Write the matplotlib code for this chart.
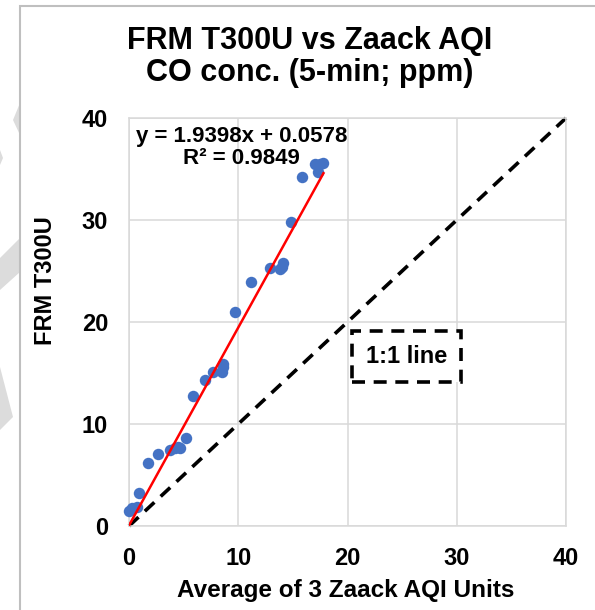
import numpy as np
import matplotlib.pyplot as plt
from matplotlib.patches import Polygon, Rectangle

plt.rcParams["font.family"] = ["Liberation Sans", "DejaVu Sans"]

# Data
zaack_avg = [0.0, 0.3, 0.7, 0.95, 1.75, 2.7, 3.75, 4.2, 4.5, 4.7, 5.2, 5.9, 7.0,
             7.7, 8.5, 8.6, 8.6, 9.7, 11.2, 12.9, 13.8, 14.0, 14.1, 14.8, 15.8,
             17.0, 17.3, 17.5, 17.8]
frm_t300u = [1.5, 1.8, 1.9, 3.2, 6.2, 7.1, 7.45, 7.6, 7.7, 7.6, 8.6, 12.7, 14.3,
             15.1, 15.1, 15.6, 15.9, 21.0, 23.9, 25.3, 25.2, 25.4, 25.8, 29.8, 34.2,
             35.5, 34.7, 35.5, 35.6]
slope, intercept, r2 = 1.9398, 0.0578, 0.9849
one_to_one = [0, 40]
ticks = [0, 10, 20, 30, 40]

W, H = 595, 610
fig = plt.figure(figsize=(W / 100, H / 100), dpi=100)
fig.patch.set_facecolor("white")

# grey watermark pieces left of the chart frame
wm = "#dcdcdc"
for pts in [[(20, 103), (13, 120), (20, 135)],
            [(0, 150), (3, 158), (0, 165)],
            [(0, 258), (20, 238), (20, 272), (0, 290)],
            [(0, 367), (13, 417), (0, 430)]]:
    fig.patches.append(Polygon([(x / W, 1 - y / H) for x, y in pts],
                               closed=True, transform=fig.transFigure,
                               facecolor=wm, edgecolor="none"))

# chart frame (only top and left edges visible)
fig.patches.append(Rectangle((20 / W, -0.2), 1.2, 0.2 + (H - 6) / H,
                             transform=fig.transFigure, facecolor="none",
                             edgecolor="#bfbfbf", linewidth=1.5))

ax = fig.add_axes([129 / W, 84 / H, 437 / W, 408 / H])

# 1:1 line
ax.plot(one_to_one, one_to_one, color="black", linewidth=2.6,
        dashes=(3.6, 2.4), zorder=2, clip_on=False)

# points
ax.scatter(zaack_avg, frm_t300u, s=68, color="#4472C4", zorder=3,
           linewidths=0, clip_on=False)

# linear trendline
xfit = np.array([min(zaack_avg), max(zaack_avg)])
ax.plot(xfit, slope * xfit + intercept, color="#ff0000", linewidth=1.8, zorder=4)

ax.text(10.3, 37.1, f"y = {slope:.4f}x + {intercept:.4f}\nR² = {r2:.4f}",
        ha="center", va="center", fontsize=16, fontweight="bold",
        linespacing=1.05, zorder=5)

ax.text(25.4, 16.6, "1:1 line", ha="center", va="center", fontsize=17,
        fontweight="bold", zorder=5,
        bbox=dict(boxstyle="square,pad=0.6", facecolor="white",
                  edgecolor="black", linewidth=2.6, linestyle=(0, (3.6, 2.4))))

ax.set_xlim(0, 40)
ax.set_ylim(0, 40)
ax.set_xticks(ticks)
ax.set_yticks(ticks)
ax.grid(True, color="#d9d9d9", linewidth=1.1)
ax.set_axisbelow(True)
for s in ax.spines.values():
    s.set_color("#d9d9d9")
    s.set_linewidth(1.1)
ax.tick_params(length=0, labelsize=17, pad=15)
for lab in ax.get_xticklabels() + ax.get_yticklabels():
    lab.set_fontweight("bold")

fig.text(310 / W, 1 - 57 / H, "FRM T300U vs Zaack AQI\nCO conc. (5-min; ppm)",
         ha="center", va="center", fontsize=22, fontweight="bold",
         linespacing=1.12)
fig.text(46 / W, 1 - 281 / H, "FRM T300U", rotation=90, ha="center",
         va="center", fontsize=17, fontweight="bold")
fig.text(346 / W, 1 - 590 / H, "Average of 3 Zaack AQI Units", ha="center",
         va="center", fontsize=17.5, fontweight="bold")

fig.savefig("out.png", dpi=100, facecolor="white")
